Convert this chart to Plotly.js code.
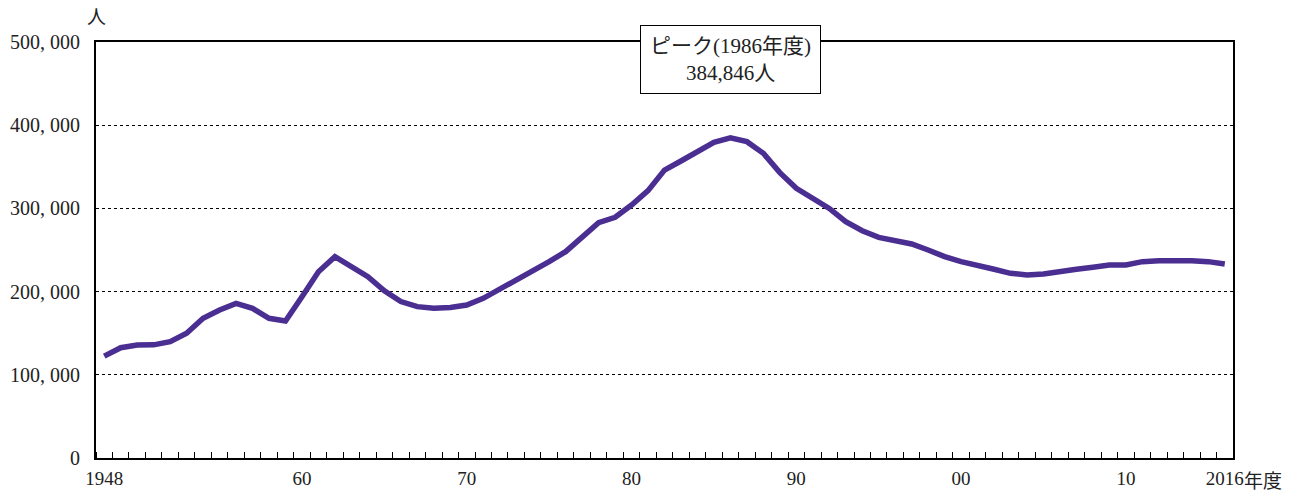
<!DOCTYPE html>
<html><head><meta charset="utf-8">
<script src="https://cdn.plot.ly/plotly-3.0.1.min.js"></script>
<style>body{margin:0;background:#fff}#chart{width:1297px;height:491px}</style>
</head><body><div id="chart"></div>
<script>
var years = [];
for (var y = 1948; y <= 2016; y++) years.push(y);
var values = [
 122500,132600,135800,136000,139800,149900,167900,177900,185900,179900,
 167900,164700,193900,223900,242000,230000,218000,201000,188000,181900,
 179900,181000,183900,191900,202700,213900,223900,236000,248000,266000,
 282900,289300,304000,321300,346000,357000,368200,379400,384846,380200,
 366200,343000,324100,312300,300000,284000,273200,265200,262000,257200,
 250000,242000,236000,232000,226800,222000,220000,221200,223200,226800,
 229200,232000,232000,236000,237200,238000,237200,236000,233200
];
var xTickVals = [1948,1960,1970,1980,1990,2000,2010,2016];
var xTickText = ['1948','60','70','80','90','00','10','2016'];
var yTickVals = [0,100000,200000,300000,400000,500000];
var yTickText = ['0','100, 000','200, 000','300, 000','400, 000','500, 000'];
var peakLabel = 'ピーク(1986年度)<br>384,846人';
var peakYear = 1986;

var FONT = 'Liberation Serif, Noto Sans CJK JP';
var trace = {
  x: years, y: values, type: 'scatter', mode: 'lines',
  line: {color: '#4B2E91', width: 5.5}, hoverinfo: 'skip'
};
var layout = {
  width: 1297, height: 491,
  margin: {l: 96, r: 64, t: 42, b: 33},
  paper_bgcolor: '#fff', plot_bgcolor: '#fff',
  showlegend: false,
  font: {family: FONT, size: 20, color: '#222'},
  xaxis: {
    range: [1947.5, 2016.5], tickmode: 'array', tickvals: xTickVals, ticktext: xTickText,
    ticks: '', showgrid: false, zeroline: false,
    showline: true, linecolor: '#000', linewidth: 2, mirror: true,
    tickfont: {family: FONT, size: 19, color: '#222'},
    ticklabelstandoff: 2,
    minor: {tick0: 1948.5, dtick: 1, ticks: 'inside', ticklen: 6, tickcolor: '#000', tickwidth: 1, showgrid: false}
  },
  yaxis: {
    range: [0, 500000], tickmode: 'array', tickvals: yTickVals, ticktext: yTickText,
    ticks: '', showgrid: true, gridcolor: '#000', griddash: 'dot', gridwidth: 1,
    zeroline: false, showline: true, linecolor: '#000', linewidth: 2, mirror: true,
    tickfont: {family: FONT, size: 20, color: '#222'},
    ticklabelstandoff: 10
  },
  annotations: [
    {x: peakYear, y: 1, xref: 'x', yref: 'paper', yanchor: 'middle', yshift: -17,
     text: peakLabel, showarrow: false, bgcolor: '#fff', bordercolor: '#000', borderwidth: 1, borderpad: 6,
     font: {family: FONT, size: 21, color: '#222'}, width: 167, height: 55, align: 'center'},
    {x: 0, y: 1, xref: 'paper', yref: 'paper', xanchor: 'center', yanchor: 'bottom', yshift: 12,
     text: '人', showarrow: false, font: {family: FONT, size: 19, color: '#222'}},
    {x: 2016, y: 0, xref: 'x', yref: 'paper', xanchor: 'left', yanchor: 'top', xshift: 17, yshift: -11,
     text: '年度', showarrow: false, font: {family: FONT, size: 19, color: '#222'}}
  ]
};
Plotly.newPlot('chart', [trace], layout, {displayModeBar: false, staticPlot: true});
</script></body></html>
